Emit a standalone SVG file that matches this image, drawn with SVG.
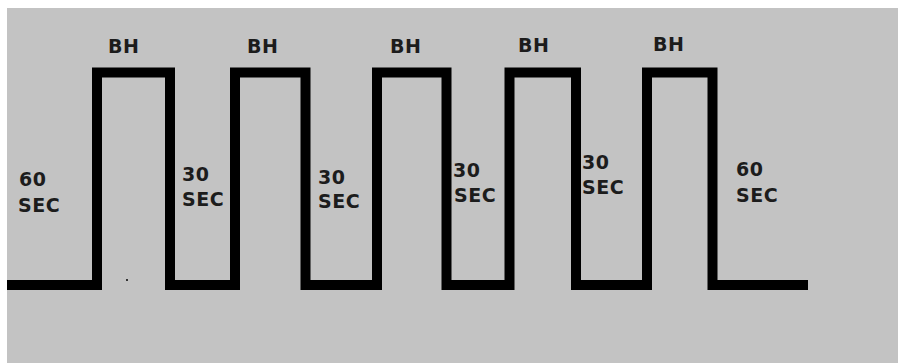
<svg xmlns="http://www.w3.org/2000/svg" width="898" height="363" viewBox="0 0 898 363">
  <style>
    .lbl { font-family: "DejaVu Sans", Verdana, sans-serif; font-weight: bold; font-size: 19px; letter-spacing: 0.5px; fill: #1c1c1c; }
    .wave { fill: none; stroke: #000; stroke-width: 10; stroke-linejoin: miter; stroke-linecap: butt; }
  </style>
  <rect x="0" y="0" width="898" height="363" fill="#ffffff"/>
  <rect x="7" y="8" width="891" height="355" fill="#c3c3c3"/>
  <g id="waveform">
    <path class="wave" d="M7,285 H97 V72.5 H170 V285 H235 V72.5 H305.5 V285 H377 V72.5 H446.5 V285 H509.5 V72.5 H576 V285 H647 V72.5 H712.5 V285 H808"/>
    <rect x="126" y="279" width="2" height="2" fill="#333"/>
  </g>
  <g id="bh-labels">
    <text class="lbl" x="108" y="53">BH</text>
    <text class="lbl" x="247" y="53">BH</text>
    <text class="lbl" x="390" y="53">BH</text>
    <text class="lbl" x="518" y="52">BH</text>
    <text class="lbl" x="653" y="51">BH</text>
  </g>
  <g id="sec-labels">
    <text class="lbl" x="19" y="186">60</text>
    <text class="lbl" x="18" y="212">SEC</text>
    <text class="lbl" x="182" y="181">30</text>
    <text class="lbl" x="182" y="206">SEC</text>
    <text class="lbl" x="318" y="184">30</text>
    <text class="lbl" x="318" y="208">SEC</text>
    <text class="lbl" x="453" y="177">30</text>
    <text class="lbl" x="454" y="202">SEC</text>
    <text class="lbl" x="582" y="169">30</text>
    <text class="lbl" x="582" y="194">SEC</text>
    <text class="lbl" x="736" y="176">60</text>
    <text class="lbl" x="736" y="202">SEC</text>
  </g>
</svg>
